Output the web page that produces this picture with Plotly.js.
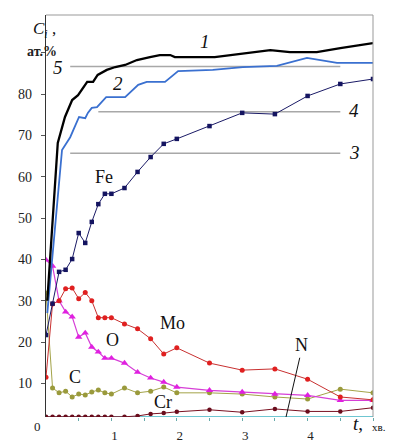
<!DOCTYPE html>
<html><head><meta charset="utf-8">
<script src="https://cdn.plot.ly/plotly-3.0.1.min.js"></script>
<style>body{margin:0;background:#fff}#chart{width:398px;height:445px}</style>
</head><body><div id="chart"></div>
<script>
// time points (min) for the marked series
const tPts = [0,0.1,0.2,0.3,0.4,0.5,0.6,0.7,0.8,0.9,1.0,1.2,1.4,1.6,1.8,2.0,2.5,3.0,3.5,4.0,4.5,5.0];
const fe = [21.7,29.3,37.0,37.5,40.1,46.4,44.0,49.1,53.4,55.9,55.9,57.3,61.2,64.8,68.0,69.2,72.3,75.5,75.2,79.6,82.5,83.7];
const mo = [11.5,29.2,30.0,32.9,33.1,30.5,32.0,30.0,25.9,25.9,25.9,24.4,23.2,20.8,17.1,18.6,14.9,13.2,13.5,11.0,6.7,6.0];
const ox = [39.9,38.4,30.0,27.3,26.1,21.2,22.2,18.8,17.6,16.1,16.1,14.9,12.7,11.3,10.3,9.1,8.3,7.9,7.4,7.1,5.9,5.9];
const cc = [31.9,8.9,7.7,8.1,6.7,7.4,7.2,7.9,8.4,7.7,7.4,8.9,7.7,8.1,9.1,7.7,7.7,7.4,6.7,6.2,8.6,7.7];
const cr = [1.9,1.9,1.9,1.9,1.9,1.9,1.9,1.9,1.9,1.9,1.9,1.9,2.1,2.6,2.8,3.1,3.6,3.0,3.8,3.2,3.2,4.1];
const nn = [1.85,1.85,1.85,1.85,1.85,1.85,1.85,1.85,1.85,1.85,1.85,1.85,1.85,1.85,1.85,1.85,1.85,1.85,1.85,1.85,1.85,1.85];

// curve 1 (black) and curve 2 (blue)
const t1 = [0.02,0.17,0.18,0.29,0.40,0.49,0.57,0.63,0.72,0.79,0.93,1.06,1.21,1.39,1.59,1.74,1.90,1.97,2.58,3.43,3.73,4.14,4.50,5.0];
const c1 = [30,66.5,68.2,74.5,78.6,79.8,81.5,83,83,84.7,85.9,86.6,87.1,88.3,89,89.5,89.5,89,89,90.7,90.2,90.2,91.2,92.4];
const t2 = [0.02,0.245,0.37,0.505,0.6,0.64,0.70,0.78,0.92,1.21,1.41,1.54,1.82,2.02,2.55,3.01,3.53,3.99,4.45,5.0];
const c2 = [27,66.5,69.6,74.5,74.2,75.5,76.7,76.9,79.3,79.3,82.3,83,83,85.6,85.9,86.6,86.9,88.8,87.6,87.6];

// reference levels 3, 4, 5
const refNames = ['3','4','5'];
const refLevels = [65.7, 75.8, 86.7];
const refStart = [0.37, 0.8, 0.37];
const refEnd = [4.5, 4.5, 4.5];

const xTickVals = [0.5,1,1.5,2,2.5,3,3.5,4,4.5,5];
const xTickText = [' ','1',' ','2',' ','3',' ','4',' ',' '];
const yTickVals = [10,20,30,40,50,60,70,80,90];
const yTickText = ['10','20','30','40','50','60','70','80',' '];

const serif = '"Liberation Serif", "DejaVu Serif", serif';
const traces = [];
refLevels.forEach((v,i)=>traces.push({x:[refStart[i],refEnd[i]],y:[v,v],mode:'lines',line:{color:'#a8a8a8',width:1.5},hoverinfo:'skip'}));
traces.push({x:tPts,y:nn,mode:'lines',line:{color:'#3fb3c2',width:1.5}});
traces.push({x:tPts,y:cr,mode:'lines+markers',line:{color:'#7a1020',width:1},marker:{symbol:'circle',size:4.5,color:'#6a0c1c'}});
traces.push({x:tPts,y:cc,mode:'lines+markers',line:{color:'#a3a348',width:1},marker:{symbol:'circle',size:5,color:'#9a9a3c'}});
traces.push({x:tPts,y:ox,mode:'lines+markers',line:{color:'#d63fd6',width:1.2},marker:{symbol:'triangle-up',size:6.5,color:'#e020e0'}});
traces.push({x:tPts,y:mo,mode:'lines+markers',line:{color:'#c83030',width:1},marker:{symbol:'circle',size:5,color:'#e02020'}});
traces.push({x:tPts,y:fe,mode:'lines+markers',line:{color:'#1a1a66',width:1},marker:{symbol:'square',size:4.5,color:'#141460'}});
traces.push({x:t2,y:c2,mode:'lines',line:{color:'#3a70d0',width:1.8}});
traces.push({x:t1,y:c1,mode:'lines',line:{color:'#000',width:2.3}});

function lab(text,x,y,size,italic){
  return {text: italic?'<i>'+text+'</i>':text,x:x,y:y,xref:'x',yref:'y',showarrow:false,font:{family:serif,size:size,color:'#111'}};
}
const annotations = [
  lab('Fe',0.89,60.0,18), lab('Mo',1.93,24.6,18), lab('O',1.01,20.5,18),
  lab('C',0.44,11.5,18), lab('Cr',1.79,5.5,18), lab('N',3.91,19.3,18),
  lab('1',2.43,92.7,19,true), lab('2',1.10,82.7,19,true), lab('3',4.72,65.8,19,true),
  lab('4',4.71,76.0,19,true), lab('5',0.18,86.6,19,true),
  {text:'0',xref:'paper',yref:'paper',x:-0.043,y:-0.047,showarrow:false,font:{family:serif,size:13,color:'#222'}},
  {text:'<i>t</i>,',xref:'paper',yref:'paper',x:0.976,y:-0.047,showarrow:false,font:{family:serif,size:19,color:'#111'}},
  {text:'хв.',xref:'paper',yref:'paper',x:1.045,y:-0.046,showarrow:false,font:{family:serif,size:11,color:'#111'}},
  {text:'<i>C<sub>i</sub></i> ,',xref:'paper',yref:'paper',x:-0.045,y:0.995,showarrow:false,font:{family:serif,size:17,color:'#111'}},
  {text:'<b>ат.%</b>',xref:'paper',yref:'paper',x:-0.064,y:0.933,showarrow:false,font:{family:serif,size:14,color:'#222'}}
];

const layout = {
  width:398,height:445,margin:{l:46,r:25,t:15,b:28},
  paper_bgcolor:'#fff',plot_bgcolor:'#fff',showlegend:false,
  font:{family:serif},
  xaxis:{range:[0,5],tickvals:xTickVals,ticktext:xTickText,ticks:'outside',ticklen:3,tickcolor:'#6aa',
    showgrid:false,zeroline:false,showline:false,ticklabelstandoff:3,ticklabelshift:3,
    tickfont:{family:serif,size:13,color:'#222'}},
  yaxis:{range:[1.85,99.2],tickvals:yTickVals,ticktext:yTickText,ticks:'outside',ticklen:4,tickcolor:'#555',
    showgrid:false,zeroline:false,showline:true,linecolor:'#333',linewidth:1.3,ticklabelstandoff:6,
    tickfont:{family:serif,size:14,color:'#222'}},
  shapes:[
    {type:'line',xref:'paper',yref:'paper',x0:0,x1:1,y0:1,y1:1,line:{color:'#999',width:1}},
    {type:'line',xref:'paper',yref:'paper',x0:1,x1:1,y0:0,y1:1,line:{color:'#999',width:1}},
    {type:'line',xref:'x',yref:'y',x0:3.88,y0:16.2,x1:3.67,y1:1.85,line:{color:'#111',width:1}}
  ],
  annotations:annotations
};
Plotly.newPlot('chart',traces,layout,{staticPlot:true});
</script></body></html>
